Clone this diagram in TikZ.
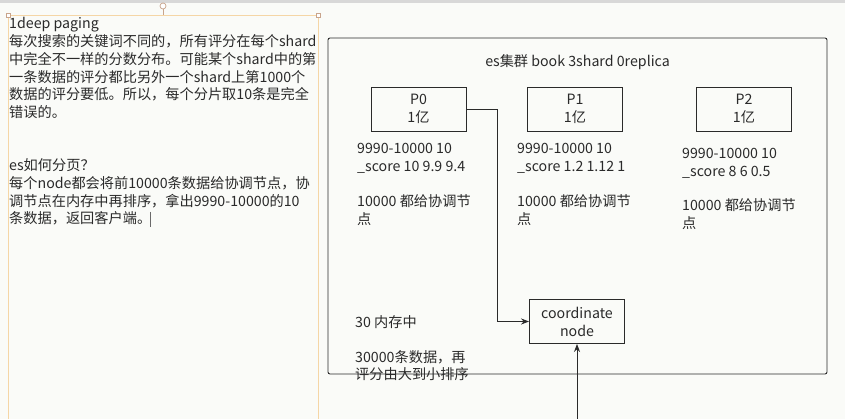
\documentclass[tikz,border=0pt]{standalone}
\usepackage{fontspec}
\setmainfont{Noto Sans CJK SC}
\usetikzlibrary{arrows.meta}
\definecolor{bg}{HTML}{FAFBF8}
\definecolor{ink}{HTML}{2A2A2A}
\definecolor{selbox}{HTML}{F5D6A6}
\definecolor{handle}{HTML}{C8A48C}
\definecolor{topbar}{HTML}{D8D8D8}
\tikzset{
  txt/.style={inner sep=0pt, anchor=base west, align=left, text=ink,
    font=\fontsize{14.2}{17.7}\selectfont},
  shardbox/.style={draw=ink, line width=0.9pt, minimum width=95pt, minimum height=44pt,
    align=center, inner sep=0pt, text=ink, font=\fontsize{14.2}{18}\selectfont},
  conn/.style={draw=ink, line width=0.9pt},
  tip/.style={-{Stealth[length=8pt,width=6pt]}},
}
\begin{document}
\begin{tikzpicture}[x=1pt,y=-1pt]
\useasboundingbox (0,0) rectangle (845,419);
\fill[bg] (0,0) rectangle (845,419);
\fill[topbar] (0,0) rectangle (845,3);
% selected text frame (left)
\draw[selbox, line width=0.9pt] (8,425) -- (8,15) -- (318,15) -- (318,425);
\draw[handle, line width=0.6pt] (163,15) -- (163,9);
\draw[handle, line width=0.7pt, fill=white] (163,6) circle (3);
\draw[handle, line width=0.6pt, fill=white] (6,13) rectangle (10,17);
\draw[handle, line width=0.6pt, fill=white] (316,13) rectangle (320,17);
% left text (anchored at the baseline of the last line)
\node[txt] (intro) at (9,117.5) {1deep paging\\每次搜索的关键词不同的，所有评分在每个shard\\中完全不一样的分数分布。可能某个shard中的第\\一条数据的评分都比另外一个shard上第1000个\\数据的评分要低。所以，每个分片取10条是完全\\错误的。};
\node[txt] (paging) at (9,224) {es如何分页？\\每个node都会将前10000条数据给协调节点，协\\调节点在内存中再排序，拿出9990-10000的10\\条数据，返回客户端。};
\draw[ink!70, line width=0.5pt] (150,212) -- (150,227);
% cluster frame
\draw[ink, line width=0.9pt, rounded corners=2pt] (328,38) rectangle (827,374);
\node[txt, anchor=base] (title) at (577.5,67) {es集群 book 3shard 0replica};
% shards
\node[shardbox] (p0) at (418.5,109) {P0\\1亿};
\node[shardbox] (p1) at (575,109) {P1\\1亿};
\node[shardbox] (p2) at (744,109) {P2\\1亿};
\node[txt] (s0a) at (357,171.7) {9990-10000 10\\\_score 10 9.9 9.4};
\node[txt] (s0b) at (357,224.7) {10000 都给协调节\\点};
\node[txt] (s1a) at (517,171.7) {9990-10000 10\\\_score 1.2 1.12 1};
\node[txt] (s1b) at (517,224.7) {10000 都给协调节\\点};
\node[txt] (s2a) at (682,176.7) {9990-10000 10\\\_score 8 6 0.5};
\node[txt] (s2b) at (682,228.7) {10000 都给协调节\\点};
% coordinate node
\node[shardbox] (coord) at (577,321.5) {coordinate\\node};
\node[txt] (mem) at (355,327) {30 内存中};
\node[txt] (sort) at (355,379.7) {30000条数据，再\\评分由大到小排序};
% connectors
\coordinate (bot) at (577,419);
\draw[conn, tip] (p0.east) -- ++(31,0) |- (coord.west);
\draw[conn, tip] (bot) -- (coord.south);
\end{tikzpicture}
\end{document}
